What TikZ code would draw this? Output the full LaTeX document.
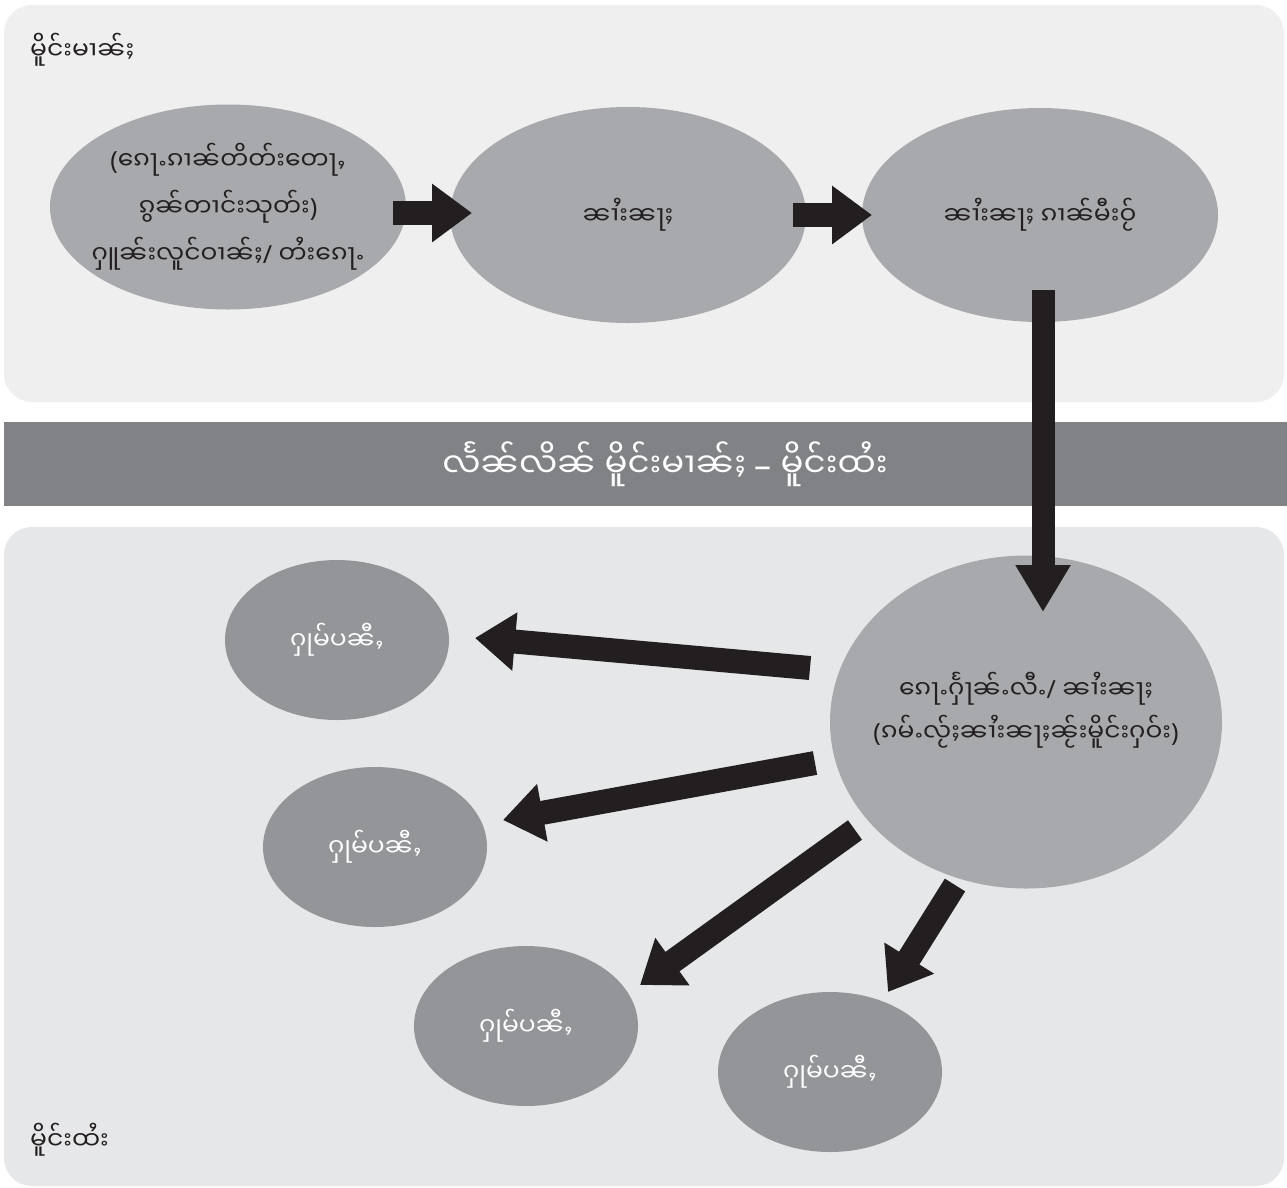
\documentclass[tikz,border=0pt]{standalone}
\usepackage{fontspec}
\newfontfamily\shan[Script=Myanmar]{Noto Sans Myanmar UI}
\newfontfamily\pun{Noto Sans}
\newcommand{\lpar}{{\pun(}}
\newcommand{\rpar}{{\pun)}}
\newcommand{\slsh}{{\pun/}}
\usetikzlibrary{arrows.meta,calc,shapes.geometric}
\definecolor{toppanel}{HTML}{EFEFEF}
\definecolor{botpanel}{HTML}{E6E7E8}
\definecolor{bannerc}{HTML}{808285}
\definecolor{ellc}{HTML}{A7A9AC}
\definecolor{smallc}{HTML}{939598}
\definecolor{ink}{HTML}{231F20}
\begin{document}
\begin{tikzpicture}[x=1pt,y=-1pt,
  panel/.style={rounded corners=28pt, draw=none},
  ellshape/.style={ellipse, fill=ellc, draw=none, inner sep=0pt},
  smallell/.style={ellipse, fill=smallc, draw=none, inner sep=0pt,
     minimum width=224pt, minimum height=160pt},
  etext/.style={text=ink, align=center, inner sep=0pt, font=\shan\fontsize{25}{47}\selectfont},
  stext/.style={text=white, align=center, inner sep=0pt, font=\shan\fontsize{25}{47}\selectfont},
  lbl/.style={text=ink, anchor=west, inner sep=0pt, font=\shan\fontsize{25}{30}\selectfont},
  blk/.style={line width=24pt, draw=ink, -{Triangle[length=40pt,width=56pt]}}
]
\useasboundingbox (0,0) rectangle (1287,1187);
\fill[white] (0,0) rectangle (1287,1187);
% panels
\fill[toppanel, panel] (4,5) rectangle (1284,402);
\fill[botpanel, panel] (4,527) rectangle (1284,1186);
\fill[bannerc] (4,422) rectangle (1287,506);
\node[text=white, inner sep=0pt, font=\shan\fontsize{34}{40}\selectfont] (banner) at (665,464) {လႅၼ်လိၼ် မိူင်းမၢၼ်ႈ {\pun –} မိူင်းထႆး};
% labels
\node[lbl] (lbltop) at (30,50) {မိူင်းမၢၼ်ႈ};
\node[lbl] (lblbot) at (30,1140) {မိူင်းထႆး};
% top ellipses
\node[ellshape, minimum width=356pt, minimum height=205pt] (e1) at (228,207) {};
\node[etext] (t1) at (e1.center) {\lpar ၵေႃႉၵၢၼ်တိတ်းတေႃႇ\\ၵွၼ်တၢင်းသုတ်း\rpar\\ႁူၼ်းလူင်ဝၢၼ်ႈ\slsh\ တႆးၵေႃႉ};
\node[ellshape, minimum width=356pt, minimum height=216pt] (e2) at (628,215) {};
\node[etext] (t2) at (e2.center) {ၼၢႆးၼႃႈ};
\node[ellshape, minimum width=356pt, minimum height=214pt] (e3) at (1040,215) {};
\node[etext] (t3) at (e3.center) {ၼၢႆးၼႃႈ ၵၢၼ်မီးဝႂ်};
% bottom
\node[ellshape, minimum width=392pt, minimum height=333pt] (big) at (1026,722) {};
\node[etext, font=\shan\fontsize{25}{43}\selectfont] (tb) at ($(big.center)+(0,-12)$)
  {ၵေႃႉႁႅႃၼ်ႉလီႉ\slsh\ ၼၢႆးၼႃႈ\\\lpar ၵမ်ႉလႂ်ႈၼၢႆးၼႃႈၼႂ်းမိူင်းႁဝ်း\rpar};
\node[smallell] (s1) at (337,640) {};
\node[smallell] (s2) at (375,847) {};
\node[smallell] (s3) at (526,1026) {};
\node[smallell] (s4) at (830,1072) {};
\node[stext] (ts1) at (s1.center) {ႁုမ်ပၼီႇ};
\node[stext] (ts2) at (s2.center) {ႁုမ်ပၼီႇ};
\node[stext] (ts3) at (s3.center) {ႁုမ်ပၼီႇ};
\node[stext] (ts4) at (s4.center) {ႁုမ်ပၼီႇ};
% arrows
\draw[blk] ($(e1.center)+(165,6)$) -- ($(e2.center)+(-156,-2)$);
\draw[blk] ($(e2.center)+(165,0)$) -- ($(e3.center)+(-168,0)$);
\draw[blk, line width=23pt, -{Triangle[length=47pt,width=52pt]}] ($(e3.center)+(3,75)$) -- ($(big.center)+(17,-110)$);
\draw[blk] ($(big.center)+(-216,-54)$) -- ($(s1.center)+(138,-2)$);
\draw[blk] ($(big.center)+(-211,41)$) -- ($(s2.center)+(128,-27)$);
\draw[blk] ($(big.center)+(-171,108)$) -- ($(s3.center)+(114,-41)$);
\draw[blk] ($(big.center)+(-71,163)$) -- ($(s4.center)+(58,-80)$);
\end{tikzpicture}
\end{document}
